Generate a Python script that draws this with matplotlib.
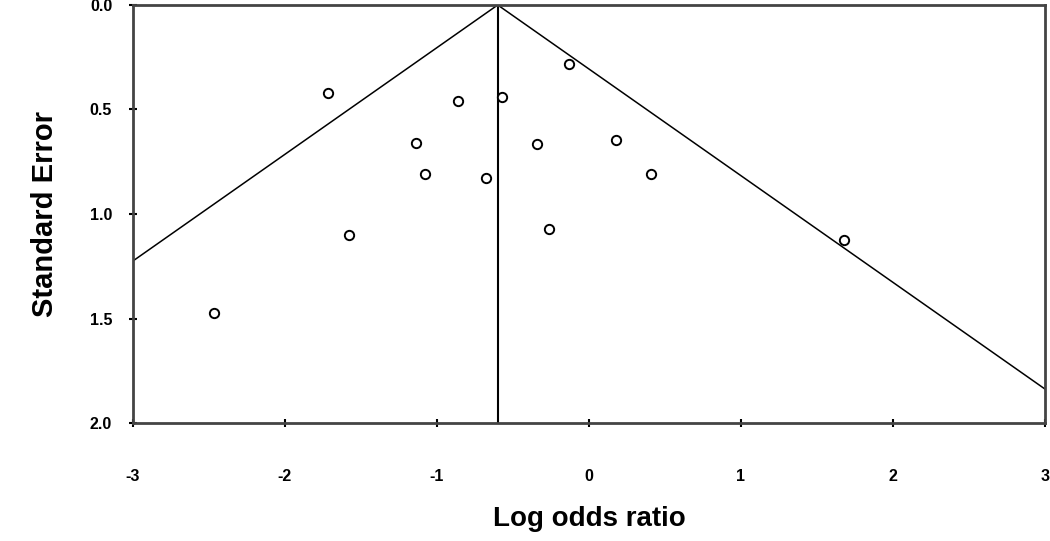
import numpy as np
import matplotlib
matplotlib.use('Agg')
import matplotlib.pyplot as plt

# study estimates
log_or = [-1.72, -0.13, -0.86, -0.57, -1.14, -0.34, 0.18, -1.08, -0.68, 0.41,
          -1.58, -0.26, 1.68, -2.47]
std_err = [0.42, 0.28, 0.46, 0.44, 0.66, 0.665, 0.646, 0.81, 0.83, 0.81,
           1.10, 1.07, 1.125, 1.475]
pooled = -0.6

x_ticks = [-3, -2, -1, 0, 1, 2, 3]
y_ticks = [0.0, 0.5, 1.0, 1.5, 2.0]

plt.rcParams['font.family'] = ['Liberation Sans', 'DejaVu Sans']

fig = plt.figure(figsize=(10.5, 5.41), dpi=100)
ax = fig.add_axes([0.1267, 0.2181, 0.8683, 0.7727])

# funnel (pseudo 95% limits)
se_line = np.array([0.0, 2.0])
ax.plot(pooled - 1.96 * se_line, se_line, color='black', lw=1.1)
ax.plot(pooled + 1.96 * se_line, se_line, color='black', lw=1.1)
ax.axvline(pooled, color='black', lw=1.5)

ax.scatter(log_or, std_err, s=45, facecolors='white', edgecolors='black',
           linewidths=1.4, zorder=3)

ax.set_xlim(-3, 3)
ax.set_ylim(2.0, 0.0)
ax.set_xticks(x_ticks)
ax.set_xticklabels([str(t) for t in x_ticks])
ax.set_yticks(y_ticks)
ax.set_yticklabels([f'{t:.1f}' for t in y_ticks])

for s in ax.spines.values():
    s.set_color('#444444')
    s.set_linewidth(2)

ax.tick_params(axis='x', direction='inout', length=6, width=1.5, pad=30,
               labelsize=11.5)
ax.tick_params(axis='y', direction='inout', length=6, width=1.5, pad=12,
               labelsize=11.5)
for lbl in ax.get_xticklabels() + ax.get_yticklabels():
    lbl.set_fontweight('bold')

ax.set_xlabel('Log odds ratio', fontsize=20, fontweight='bold', labelpad=16)
ax.set_ylabel('Standard Error', fontsize=21, fontweight='bold', labelpad=22)

plt.savefig('out.png', dpi=100)
